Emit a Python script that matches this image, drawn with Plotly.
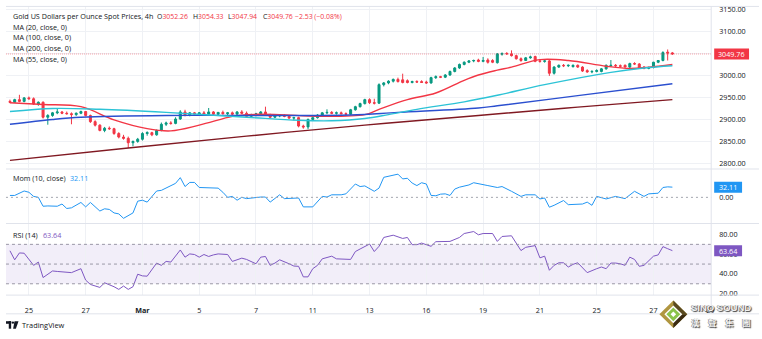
import plotly.graph_objects as go

W, H = 762, 339
FONT = "Open Sans"
TXT = "#131722"
UP, DOWN = "#089981", "#f23645"
GRID = "#eff1f5"
SEP = "#e0e3eb"

# ---------------- data ----------------
bar_index = list(range(141))

opens = [
    2942, 2940, 2946, 2942, 2950, 2948, 2936, 2940, 2906, 2910,
    2916, 2918, 2915, 2914, 2912, 2915, 2919, 2910, 2896, 2888,
    2876, 2881, 2880, 2869, 2861, 2858, 2848, 2851, 2856, 2869,
    2871, 2866, 2876, 2890, 2893, 2892, 2902, 2918, 2911, 2916,
    2913, 2916, 2913, 2918, 2913, 2917, 2914, 2916, 2913, 2918,
    2915, 2908, 2912, 2914, 2918, 2911, 2906, 2909, 2910, 2908,
    2904, 2905, 2886, 2884, 2901, 2905, 2911, 2916, 2917, 2915,
    2916, 2914, 2913, 2923, 2930, 2937, 2946, 2939, 2938, 2980,
    2984, 2988, 2992, 2991, 2989, 2985, 2987, 2987, 2986, 2984,
    2996, 2998, 2997, 3002, 3010, 3018, 3026, 3031, 3034, 3036,
    3033, 3036, 3035, 3030, 3049, 3051, 3050, 3046, 3039, 3035,
    3041, 3044, 3034, 3033, 3034, 3006, 3020, 3024, 3023, 3021,
    3024, 3020, 3012, 3009, 3010, 3010, 3016, 3023, 3024, 3023,
    3024, 3020, 3028, 3027, 3020, 3017, 3019, 3031, 3035, 3054,
    3052.26,
]
highs = [
    2946, 2948, 2957, 2952, 2953, 2951, 2942, 2942, 2913, 2918,
    2925, 2920, 2919, 2917, 2917, 2921, 2920, 2912, 2899, 2890,
    2884, 2885, 2882, 2872, 2866, 2862, 2853, 2859, 2872, 2874,
    2873, 2878, 2894, 2896, 2897, 2906, 2922, 2923, 2918, 2918,
    2918, 2920, 2927, 2920, 2918, 2921, 2918, 2919, 2920, 2922,
    2919, 2914, 2916, 2920, 2930, 2914, 2911, 2913, 2913, 2911,
    2907, 2907, 2889, 2903, 2907, 2913, 2918, 2924, 2920, 2919,
    2919, 2917, 2925, 2932, 2939, 2948, 2949, 2948, 2983, 2986,
    2990, 2994, 2996, 3005, 2992, 2989, 2990, 2990, 2989, 2998,
    3001, 3000, 3004, 3012, 3020, 3028, 3033, 3036, 3037, 3039,
    3043, 3040, 3038, 3052, 3053, 3054, 3058, 3048, 3042, 3043,
    3046, 3046, 3037, 3036, 3036, 3022, 3026, 3027, 3026, 3026,
    3026, 3022, 3015, 3013, 3015, 3018, 3026, 3036, 3027, 3026,
    3026, 3030, 3031, 3029, 3022, 3021, 3032, 3036, 3056, 3060,
    3054.33,
]
lows = [
    2938, 2939, 2940, 2940, 2946, 2934, 2932, 2903, 2889, 2907,
    2913, 2913, 2912, 2890, 2909, 2913, 2908, 2893, 2885, 2874,
    2872, 2877, 2866, 2858, 2855, 2836, 2840, 2848, 2853, 2864,
    2863, 2864, 2874, 2886, 2889, 2890, 2900, 2908, 2908, 2911,
    2910, 2911, 2911, 2911, 2909, 2912, 2910, 2911, 2912, 2913,
    2906, 2905, 2908, 2911, 2909, 2904, 2904, 2906, 2906, 2902,
    2899, 2883, 2880, 2879, 2898, 2903, 2909, 2913, 2913, 2912,
    2913, 2910, 2911, 2921, 2928, 2935, 2936, 2935, 2936, 2976,
    2981, 2985, 2985, 2983, 2983, 2983, 2984, 2984, 2982, 2982,
    2993, 2995, 2995, 3000, 3008, 3016, 3024, 3029, 3031, 3031,
    3031, 3028, 3029, 3028, 3046, 3048, 3044, 3037, 3032, 3034,
    3039, 3031, 3030, 3030, 3000, 3003, 3018, 3020, 3020, 3019,
    3018, 3009, 3007, 3006, 3008, 3008, 3014, 3020, 3020, 3019,
    3019, 3018, 3025, 3016, 3015, 3015, 3017, 3029, 3033, 3035,
    3047.94,
]
closes = [
    2940, 2946, 2942, 2950, 2948, 2936, 2940, 2906, 2910, 2916,
    2918, 2915, 2914, 2912, 2915, 2919, 2910, 2896, 2888, 2876,
    2881, 2880, 2869, 2861, 2858, 2848, 2851, 2856, 2869, 2871,
    2866, 2876, 2890, 2893, 2892, 2902, 2918, 2911, 2916, 2913,
    2916, 2913, 2918, 2913, 2917, 2914, 2916, 2913, 2918, 2915,
    2908, 2912, 2914, 2918, 2911, 2906, 2909, 2910, 2908, 2904,
    2905, 2886, 2884, 2901, 2905, 2911, 2916, 2917, 2915, 2916,
    2914, 2913, 2923, 2930, 2937, 2946, 2939, 2938, 2980, 2984,
    2988, 2992, 2987, 2985, 2985, 2987, 2986, 2985, 2984, 2996,
    2998, 2997, 3002, 3010, 3018, 3026, 3031, 3034, 3035, 3033,
    3035, 3031, 3031, 3050, 3051, 3050, 3046, 3039, 3035, 3041,
    3043, 3033, 3033, 3034, 3006, 3020, 3024, 3023, 3024, 3024,
    3020, 3011, 3009, 3010, 3012, 3016, 3024, 3024, 3023, 3022,
    3020, 3028, 3027, 3018, 3017, 3019, 3031, 3035, 3053, 3052,
    3049.76,
]

# moving averages (bar index, value)
ma20_idx = [0, 7, 15, 22, 29, 34, 40, 47, 50, 57, 65, 75, 78, 84, 90, 96, 99, 103, 106, 112, 118, 126, 131, 135, 140]
ma20_val = [2939, 2935, 2930, 2900, 2880, 2875, 2888, 2908, 2912, 2912, 2908, 2912, 2924, 2946, 2961, 2990, 3002, 3013, 3020, 3037, 3035, 3022, 3017, 3020, 3026]
ma55_idx = [0, 9, 19, 33, 50, 61, 68, 75, 80, 86, 96, 103, 113, 127, 134, 140]
ma55_val = [2919, 2926, 2924, 2917, 2906, 2899, 2898, 2903, 2912, 2924, 2941, 2956, 2980, 3008, 3018, 3023]
ma100_idx = [0, 9, 15, 33, 50, 72, 82, 99, 103, 120, 140]
ma100_val = [2890, 2901, 2906, 2910, 2910, 2911, 2917, 2927, 2932, 2955, 2982]
ma200_idx = [0, 25, 50, 75, 99, 120, 140]
ma200_val = [2808, 2836, 2863, 2888, 2910, 2929, 2946]

# momentum (10)
mom_idx = [0, 1, 3, 4, 5, 6, 7, 8, 10, 11, 12, 13, 15, 16, 17, 19, 20, 21, 22, 23,
           24, 26, 27, 28, 29, 31, 32, 33, 35, 36, 37, 38, 39, 40, 41, 42, 44, 45, 46, 47,
           48, 49, 50, 53, 54, 55, 57, 58, 61, 62, 64, 66, 67, 68, 70, 71, 73, 74, 75, 77,
           78, 79, 80, 82, 83, 84, 85, 86, 87, 88, 89, 90, 91, 92, 93, 94, 95, 97, 98, 100,
           101, 103, 104, 106, 108, 109, 111, 112, 113, 114, 115, 117, 118, 121, 122, 123, 124, 126, 128, 130,
           132, 134, 135, 137, 138, 139, 140]
mom_val = [6, 6, 20, 16, 3, 0, -28, -27, -28, -21, -35, -33, -16, -30, -16, -43, -36, -38, -49, -52,
           -66, -49, -12, -9, -15, 20, 22, 29, 44, 62, 34, 47, 47, 31, 31, 29, 29, 16, 0, 3,
           -9, 0, -4, 1, 1, -15, 8, -4, -2, -30, -30, 3, 1, 8, 8, 11, 42, 34, 36, 19,
           29, 63, 67, 73, 58, 60, 45, 37, 46, 42, 6, 5, 10, 11, 6, 26, 32, 39, 46, 39,
           37, 31, 34, 19, 3, 8, 8, -5, -2, -31, -25, -10, -23, -21, -15, -25, 3, -5, 3, -4,
           19, 3, 11, 13, 31, 33, 32.11]

# RSI (14)
rsi_idx = [0, 1, 2, 3, 5, 6, 7, 9, 10, 12, 13, 15, 16, 17, 19, 20, 21, 22, 23, 24,
           25, 26, 27, 28, 29, 31, 32, 33, 34, 35, 36, 37, 38, 39, 40, 41, 42, 43, 44, 46,
           47, 49, 50, 52, 53, 54, 55, 56, 57, 59, 60, 61, 62, 63, 64, 65, 66, 68, 69, 72,
           73, 74, 76, 77, 78, 79, 81, 83, 84, 85, 86, 87, 89, 90, 93, 95, 96, 98, 99, 100,
           102, 103, 104, 106, 108, 109, 111, 112, 113, 114, 115, 116, 117, 118, 119, 120, 122, 124, 125, 126,
           127, 128, 129, 130, 131, 132, 133, 134, 136, 137, 138, 139, 140]
rsi_val = [63.5, 54.3, 61.3, 61, 48.7, 52, 36.3, 43, 42.5, 42, 41.3, 45.3, 33.7, 29.3, 26.3, 31, 29.3, 27, 24.3, 27.7,
           24.3, 27, 39.7, 38, 37.7, 51, 48.7, 52.7, 52, 58, 64.3, 57, 60.3, 59.7, 57, 59.7, 57.7, 59.3, 60.3, 59.7,
           52.7, 56, 54.7, 50.3, 57, 57.7, 48.7, 51, 54.3, 50.3, 48, 47.7, 37, 37, 45.3, 48.7, 55.3, 58, 55.3, 54.7,
           62.7, 65.3, 70.3, 62.7, 68, 77, 79.3, 76, 77, 69.7, 69.7, 71.3, 68, 72.7, 73, 77, 81, 83, 79.7, 81,
           81, 73, 78, 78.7, 63.7, 67, 68.7, 56.3, 58, 43.7, 48.7, 51.3, 51.3, 47, 49.7, 51.3, 41.3, 45.3, 47, 45.3,
           51, 51, 50.3, 48.7, 57, 54.7, 47.7, 48.7, 58, 59.3, 67.7, 65.6, 63.64]

tick_index = [4, 16, 28, 40, 52, 64, 76, 88, 100, 112, 124, 136, 148]
tick_labels = ["25", "27", "<b>Mar</b>", "5", "7", "11", "13", "16", "19", "21", "25", "27", "29"]
price_ticks = [2800, 2850, 2900, 2950, 3000, 3050, 3100, 3150]
rsi_ticks = [20, 40, 60, 80]


def PX(x):
    return x / W


def PY(y):
    return 1 - y / H


XR = [-0.84, 148.2]

fig = go.Figure()

fig.add_trace(go.Candlestick(
    x=bar_index, open=opens, high=highs, low=lows, close=closes,
    increasing=dict(line=dict(color=UP, width=1), fillcolor=UP),
    decreasing=dict(line=dict(color=DOWN, width=1), fillcolor=DOWN),
    whiskerwidth=0, xaxis="x", yaxis="y", hoverinfo="skip",
))

for idx, val, col in [(ma20_idx, ma20_val, "#f23645"),
                      (ma100_idx, ma100_val, "#2b4fcf"),
                      (ma200_idx, ma200_val, "#801922"),
                      (ma55_idx, ma55_val, "#2cc3d6")]:
    fig.add_trace(go.Scatter(x=idx, y=val, mode="lines",
                             line=dict(color=col, width=1.4, shape="spline", smoothing=1.0),
                             xaxis="x", yaxis="y", hoverinfo="skip"))

fig.add_trace(go.Scatter(x=mom_idx, y=mom_val, mode="lines",
                         line=dict(color="#2196f3", width=1),
                         xaxis="x2", yaxis="y2", hoverinfo="skip"))
fig.add_trace(go.Scatter(x=rsi_idx, y=rsi_val, mode="lines",
                         line=dict(color="#7e57c2", width=1),
                         xaxis="x3", yaxis="y3", hoverinfo="skip"))

xcommon = dict(range=XR, tickvals=tick_index, showgrid=True, gridcolor=GRID, gridwidth=1,
               zeroline=False, showline=False, ticks="", fixedrange=True)
ycommon = dict(side="right", zeroline=False, showline=False, ticks="", fixedrange=True,
               ticklabelstandoff=7, tickfont=dict(size=7.2, color=TXT))

fig.update_layout(
    width=W, height=H, margin=dict(l=0, r=0, t=0, b=0),
    paper_bgcolor="white", plot_bgcolor="white",
    showlegend=False, hovermode=False, boxgap=0.4,
    font=dict(family=FONT, size=7.2, color=TXT),
    xaxis=dict(domain=[PX(6), PX(714)], anchor="y", showticklabels=False,
               rangeslider=dict(visible=False), **xcommon),
    xaxis2=dict(domain=[PX(6), PX(714)], anchor="y2", matches="x", showticklabels=False, **xcommon),
    xaxis3=dict(domain=[PX(6), PX(714)], anchor="y3", matches="x", showticklabels=True,
                ticktext=tick_labels, ticklabelstandoff=10, tickfont=dict(size=7.2, color=TXT), **xcommon),
    yaxis=dict(domain=[PY(170), PY(5)], range=[2789.5, 3159], anchor="x",
               tickvals=price_ticks, ticktext=[f"{v:.2f}" for v in price_ticks],
               showgrid=True, gridcolor=GRID, **ycommon),
    yaxis2=dict(domain=[PY(225), PY(171)], range=[-79.7, 87.7], anchor="x2",
                tickvals=[0], ticktext=["0.00"], showgrid=False, **ycommon),
    yaxis3=dict(domain=[PY(298), PY(226)], range=[19, 91], anchor="x3",
                tickvals=rsi_ticks, ticktext=[f"{v:.2f}" for v in rsi_ticks], showgrid=False, **ycommon),
)

shapes = []
# RSI band and levels
shapes.append(dict(type="rect", xref="paper", yref="y3", x0=PX(6), x1=PX(714), y0=30, y1=70,
                   fillcolor="rgba(126,87,194,0.10)", line=dict(width=0), layer="below"))
for lvl in (70, 50, 30):
    shapes.append(dict(type="line", xref="paper", yref="y3", x0=PX(6), x1=PX(714), y0=lvl, y1=lvl,
                       line=dict(color="#9a98a6", width=1, dash="3px,3px")))
# momentum zero line
shapes.append(dict(type="line", xref="paper", yref="y2", x0=PX(6), x1=PX(714), y0=0, y1=0,
                   line=dict(color="#a3a6af", width=1, dash="2px,3px")))
# last price line
shapes.append(dict(type="line", xref="paper", yref="y", x0=PX(6), x1=PX(714), y0=closes[-1], y1=closes[-1],
                   line=dict(color="rgba(242,54,69,0.45)", width=1, dash="1px,1px")))
# pane separators and axis borders
for yy in (5.5, 170.5, 225.8, 298.5, 317.5):
    shapes.append(dict(type="line", xref="paper", yref="paper", x0=PX(6), x1=1, y0=PY(yy), y1=PY(yy),
                       line=dict(color=SEP, width=1)))
shapes.append(dict(type="line", xref="paper", yref="paper", x0=PX(714), x1=PX(714), y0=PY(5.5), y1=PY(317.5),
                   line=dict(color=SEP, width=1)))

# value boxes on the right scale
def value_box(yref, val, x1, color):
    shapes.append(dict(type="rect", xref="paper", yref=yref, x0=PX(717), x1=PX(x1),
                       ysizemode="pixel", yanchor=val, y0=-5.5, y1=5.5,
                       fillcolor=color, line=dict(width=0), layer="above"))

value_box("y", closes[-1], 752, "#f23645")
value_box("y2", mom_val[-1], 745, "#2196f3")
value_box("y3", rsi_val[-1], 745, "#7e57c2")

# TradingView mark
def P(x, y):
    return f"{PX(x):.5f},{PY(y):.5f}"

tv = "#131722"
shapes.append(dict(type="rect", xref="paper", yref="paper", x0=PX(6), x1=PX(11.2), y0=PY(327.6), y1=PY(325),
                   fillcolor=tv, line=dict(width=0)))
shapes.append(dict(type="rect", xref="paper", yref="paper", x0=PX(8.8), x1=PX(11.2), y0=PY(332.6), y1=PY(325),
                   fillcolor=tv, line=dict(width=0)))
shapes.append(dict(type="circle", xref="paper", yref="paper", x0=PX(11.8), x1=PX(14.2), y0=PY(327.6), y1=PY(325.2),
                   fillcolor=tv, line=dict(width=0)))
shapes.append(dict(type="path", xref="paper", yref="paper",
                   path=f"M {P(14.6, 325)} L {P(18.6, 325)} L {P(15.9, 332.6)} L {P(13.2, 332.6)} Z",
                   fillcolor=tv, line=dict(width=0)))

# SINO SOUND emblem
cx, cy = 676, 318

def diamond(r, color):
    shapes.append(dict(type="path", xref="paper", yref="paper",
                       path=f"M {P(cx, cy - r)} L {P(cx + r, cy)} L {P(cx, cy + r)} L {P(cx - r, cy)} Z",
                       fillcolor=color, line=dict(width=0), layer="above"))

diamond(14, "#b09640")
shapes.append(dict(type="path", xref="paper", yref="paper",
                   path=f"M {P(cx + 14, cy)} L {P(cx, cy + 14)} L {P(cx, cy)} Z",
                   fillcolor="#3a2b12", line=dict(width=0), layer="above"))
shapes.append(dict(type="path", xref="paper", yref="paper",
                   path=f"M {P(cx, cy - 14)} L {P(cx + 14, cy)} L {P(cx, cy)} Z",
                   fillcolor="#5a4a20", line=dict(width=0), layer="above"))
diamond(9, "white")
diamond(7, "#8bc34a")
diamond(2.8, "white")

fig.update_layout(shapes=shapes)

ann = []

def note(text, x, y, size=7.2, color=TXT, xanchor="left", family=FONT, **kw):
    ann.append(dict(text=text, xref="paper", yref="paper", x=PX(x), y=PY(y), xanchor=xanchor,
                    yanchor="middle", showarrow=False, font=dict(size=size, color=color, family=family, **kw)))

red = "#f23645"
note("Gold US Dollars per Ounce Spot Prices, 4h", 11, 15.7)
note(f"O<span style='color:{red}'>3052.26</span>", 156, 15.7, size=6.9)
note(f"H<span style='color:{red}'>3054.33</span>", 192, 15.7, size=6.9)
note(f"L<span style='color:{red}'>3047.94</span>", 227, 15.7, size=6.9)
note(f"C<span style='color:{red}'>3049.76</span>", 262, 15.7, size=6.9)
note("−2.53 (−0.08%)", 294, 15.7, size=6.9, color=red)
note("MA (20, close, 0)", 11, 26.2)
note("MA (100, close, 0)", 11, 37)
note("MA (200, close, 0)", 11, 47.8)
note("MA (55, close, 0)", 11, 59)
note("Mom (10, close)", 11, 179.5)
note(f"{mom_val[-1]:.2f}", 68, 179.5, color="#2196f3")
note("RSI (14)", 11, 237)
note(f"{rsi_val[-1]:.2f}", 41, 237, color="#7e57c2")
note("TradingView", 20.5, 329, size=7.4)

# labels inside the right-scale boxes
for yref, val, xc in [("y", closes[-1], 734.5), ("y2", mom_val[-1], 731), ("y3", rsi_val[-1], 731)]:
    ann.append(dict(text=f"{val:.2f}", xref="paper", yref=yref, x=PX(xc), y=val, xanchor="center",
                    yanchor="middle", showarrow=False, font=dict(size=7.2, color="white", family=FONT)))

shadow = "1px 1px 1px #3a3a3a, -0.5px -0.5px 0.5px #6a6a6a"
note("SINO SOUND", 723.5, 311.5, size=9.5, color="#f2f2f2", xanchor="center",
     family="Liberation Sans", weight="bold", shadow=shadow)
note("漢　聲　集　團", 724, 326, size=8.5, color="#f2f2f2", xanchor="center",
     family="Noto Sans CJK TC", weight="bold", shadow=shadow)

fig.update_layout(annotations=ann)

fig.write_html("out.html")
